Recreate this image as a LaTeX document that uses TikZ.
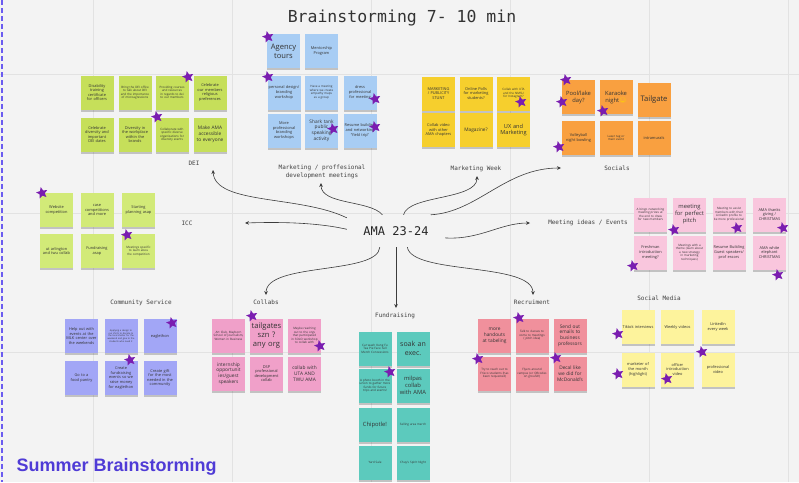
\documentclass[tikz,border=0pt]{standalone}
\usepackage{fontspec}
\setmainfont{Open Sans}
\newfontfamily\monofont{DejaVu Sans Mono}
\newfontfamily\headfont{Liberation Sans}
\newfontfamily\emojifont{Noto Emoji}
\usetikzlibrary{arrows.meta,positioning,calc,shapes.geometric,shadows}

\definecolor{boardbg}{HTML}{F3F3F3}
\definecolor{gridgray}{HTML}{E2E2E2}
\definecolor{edgeblue}{HTML}{6B5CF0}
\definecolor{deigreen}{HTML}{C6DF5A}
\definecolor{iccgreen}{HTML}{D2EA78}
\definecolor{mktblue}{HTML}{A8CDF4}
\definecolor{mktgold}{HTML}{F6CF2D}
\definecolor{socorange}{HTML}{F9A040}
\definecolor{meetpink}{HTML}{F9C6DD}
\definecolor{commblue}{HTML}{A2A6F6}
\definecolor{collpink}{HTML}{F0A0C9}
\definecolor{fundteal}{HTML}{5CCABD}
\definecolor{recsalmon}{HTML}{F0909C}
\definecolor{smyellow}{HTML}{FDF39C}
\definecolor{starpurple}{HTML}{7A1DB0}
\definecolor{headpurple}{HTML}{4F3BD6}
\definecolor{arrowgray}{HTML}{3C3C3C}

\begin{document}
\begin{tikzpicture}[x=1pt,y=-1pt,
  note/.style={rectangle,minimum width=33pt,minimum height=34pt,text width=31pt,
    align=center,inner sep=0.5pt,text=black!80,
    execute at begin node={\hyphenpenalty=10000\exhyphenpenalty=10000},
    drop shadow={shadow xshift=0pt,shadow yshift=-2pt,fill=black,opacity=0.2}},
  f3/.style={font=\fontsize{3}{3.5}\selectfont},
  f4/.style={font=\fontsize{3.9}{4.6}\selectfont},
  f5/.style={font=\fontsize{4.8}{5.8}\selectfont},
  f6/.style={font=\fontsize{5.8}{7}\selectfont},
  f8/.style={font=\fontsize{7.6}{9}\selectfont},
  lbl/.style={font=\monofont\fontsize{6}{7.4}\selectfont,text=black!75,align=center},
  pstar/.style={star,star points=5,star point ratio=2.2,fill=starpurple,
    minimum size=12pt,inner sep=0pt,rotate=12},
  link/.style={draw=arrowgray,line width=0.6pt,-{Stealth[length=4pt,width=3.6pt]}}]

  % ---- 背景（ボード・グリッド・左端の点線） ----
  \useasboundingbox (0,0) rectangle (799,482);
  \fill[boardbg] (0,0) rectangle (799,482);
  \foreach \gx in {93,232,371,510,649,788} {
    \draw[gridgray,line width=0.6pt] (\gx,0) -- (\gx,482);
  }
  \foreach \gy in {74,213,352} {
    \draw[gridgray,line width=0.6pt] (0,\gy) -- (799,\gy);
  }
  \draw[edgeblue,line width=2.5pt,dash pattern=on 5pt off 3pt] (2,0) -- (2,482);

  % ---- タイトルと中心 ----
  \node[font=\monofont\fontsize{16.5}{19}\selectfont,text=black!80] (title) at (402,18) {Brainstorming 7- 10 min};
  \node[font=\monofont\fontsize{12}{14}\selectfont,text=black!85,minimum width=98pt,minimum height=32pt] (ama) at (396,231) {AMA 23-24};
  \node[anchor=west,font=\headfont\bfseries\fontsize{18}{20}\selectfont,text=headpurple] (summer) at (13,467) {Summer Brainstorming};

  % ---- DEI ----
  \begin{scope}
    \node[note,fill=deigreen,f4] (dei1) at (97,92.5) {Disability training certificate for officers};
    \node[note,fill=deigreen,f3] (dei2) at (135,92.5) {Bring the DEI office to talk about DEI and the importance of microagressions};
    \node[note,fill=deigreen,f3] (dei3) at (172,92.5) {Providing courses and resources in regards to dei to our members};
    \node[note,fill=deigreen,f4] (dei4) at (210,92.5) {Celebrate our members religious preferences};
    \node[note,fill=deigreen,f4] (dei5) at (97,134.5) {Celebrate diversity and important DEI dates};
    \node[note,fill=deigreen,f4] (dei6) at (135,134.5) {Diversity in the workplace within the brands};
    \node[note,fill=deigreen,f3] (dei7) at (172,134.5) {Collaborate with specific diverse organizations for diversity events};
    \node[note,fill=deigreen,f5] (dei8) at (210,134.5) {Make AMA accessible to everyone};
    \node[lbl] (deiLbl) at (194,163) {DEI};
  \end{scope}

  % ---- Marketing / professional development ----
  \begin{scope}
    \node[note,fill=mktblue,f8] (prof1) at (283.5,51) {Agency tours};
    \node[note,fill=mktblue,f4] (prof2) at (321.5,51) {Mentorship Program};
    \node[note,fill=mktblue,f4] (prof3) at (284,92.5) {personal design/ branding workshop};
    \node[note,fill=mktblue,f3] (prof4) at (321.5,92.5) {Have a meeting where we create empathy maps as a group};
    \node[note,fill=mktblue,f4] (prof5) at (360,92.5) {dress professional for meeting};
    \node[note,fill=mktblue,f4] (prof6) at (284,130.5) {More professional branding workshops};
    \node[note,fill=mktblue,f5] (prof7) at (321.5,130.5) {Shark tank public speaking activity};
    \node[note,fill=mktblue,f4] (prof8) at (360,130.5) {Resume building and networking ``field trip''};
    \node[lbl] (profLbl) at (322,172) {Marketing / proffesional\\development meetings};
  \end{scope}

  % ---- Marketing Week ----
  \begin{scope}
    \node[note,fill=mktgold,f4] (mw1) at (438.5,93.5) {MARKETING / PUBLICITY STUNT};
    \node[note,fill=mktgold,f4] (mw2) at (476,93.5) {Online Polls for marketing students?};
    \node[note,fill=mktgold,f3] (mw3) at (513.5,93.5) {Collab with UTA and the NMSU for Instagram?};
    \node[note,fill=mktgold,f4] (mw4) at (438.5,130) {Collab video with other AMA chapters};
    \node[note,fill=mktgold,f5] (mw5) at (476,130) {Magazine?};
    \node[note,fill=mktgold,font=\fontsize{5.6}{6.8}\selectfont] (mw6) at (513.5,130) {UX and Marketing};
    \node[lbl] (mwLbl) at (476,169) {Marketing Week};
  \end{scope}

  % ---- Socials ----
  \begin{scope}
    \node[note,fill=socorange,f6] (soc1) at (578.5,97) {Pool/lake day?};
    \node[note,fill=socorange,f6] (soc2) at (616,97) {Karaoke night{\emojifont\color{yellow!70!orange}😂}};
    \node[note,fill=socorange,f8] (soc3) at (654,99.5) {Tailgate};
    \node[note,fill=socorange,f4] (soc4) at (578.5,138) {Volleyball night bowling};
    \node[note,fill=socorange,f3] (soc5) at (616,138) {Laser tag or main event};
    \node[note,fill=socorange,f4] (soc6) at (654,138) {intramurals};
    \node[lbl] (socLbl) at (617,168) {Socials};
  \end{scope}

  % ---- ICC ----
  \begin{scope}
    \node[note,fill=iccgreen,f4] (icc1) at (56.5,210) {Website competition};
    \node[note,fill=iccgreen,f4] (icc2) at (97,210) {case competitions and more};
    \node[note,fill=iccgreen,f4] (icc3) at (138.5,210) {Starting planning asap};
    \node[note,fill=iccgreen,f4] (icc4) at (56.5,251) {ut arlington and twu collab};
    \node[note,fill=iccgreen,f4] (icc5) at (97,251) {Fundraising asap};
    \node[note,fill=iccgreen,f3] (icc6) at (138.5,251) {Meetings specific to learn abou the competition};
    \node[lbl] (iccLbl) at (187,223) {ICC};
  \end{scope}

  % ---- Meeting ideas / Events ----
  \begin{scope}
    \node[note,fill=meetpink,f3] (meet1) at (650.5,214.5) {A bingo networking meeting prizes at the end to draw for new members};
    \node[note,fill=meetpink,f6] (meet2) at (689.5,214.5) {meeting for perfect pitch};
    \node[note,fill=meetpink,f3] (meet3) at (729,214.5) {Meeting to assist members with their LinkedIn profile to be more professional};
    \node[note,fill=meetpink,f4] (meet4) at (769.5,214.5) {AMA thanks giving / CHRISTMAS};
    \node[note,fill=meetpink,f4] (meet5) at (650.5,252.5) {Freshman introduction meeting?};
    \node[note,fill=meetpink,f3] (meet6) at (689.5,252.5) {Meetings with a theme (learn about a new strategy in marketing techniques)};
    \node[note,fill=meetpink,f4] (meet7) at (729,252.5) {Resume Building Guest speakers/\allowbreak prof essors};
    \node[note,fill=meetpink,f4] (meet8) at (769.5,252.5) {AMA white elephant CHRISTMAS};
    \node[lbl] (meetLbl) at (588,223) {Meeting ideas / Events};
  \end{scope}

  % ---- Community Service ----
  \begin{scope}
    \node[note,fill=commblue,f4] (comm1) at (81.5,336) {Help out with events at the MLK center over the weekends};
    \node[note,fill=commblue,font=\fontsize{2.3}{2.8}\selectfont] (comm2) at (121,336) {Applying a design to our shirts to donate to the local shelter for the weekend and give to the students who need it};
    \node[note,fill=commblue,f4] (comm3) at (160,336) {eaglethon};
    \node[note,fill=commblue,f4] (comm4) at (81.5,378) {Go to a food pantry};
    \node[note,fill=commblue,f4] (comm5) at (121,378) {Create fundraising events so we raise money for eaglethon};
    \node[note,fill=commblue,f4] (comm6) at (160,378) {Create gift for the most needed in the community};
    \node[lbl] (commLbl) at (141,303) {Community Service};
  \end{scope}

  % ---- Collabs ----
  \begin{scope}
    \node[note,fill=collpink,f3] (coll1) at (228.5,335.5) {Art Club, Mayborn School of Journalism, Women in Business};
    \node[note,fill=collpink,f8] (coll2) at (266.5,335.5) {tailgates szn ? any org};
    \node[note,fill=collpink,f3] (coll3) at (304.5,335.5) {Maybe reaching out to the orgs that participated in SOLO workshop to collab with};
    \node[note,fill=collpink,f5] (coll4) at (228.5,373.5) {internship opportunit\allowbreak ies/\allowbreak guest speakers};
    \node[note,fill=collpink,f4] (coll5) at (266.5,373.5) {DSP professional development collab};
    \node[note,fill=collpink,f5] (coll6) at (304.5,373.5) {collab with UTA AND TWU AMA};
    \node[lbl] (collLbl) at (266,302) {Collabs};
  \end{scope}

  % ---- Fundraising ----
  \begin{scope}
    \node[note,fill=fundteal,f3] (fund1) at (375,348.5) {Car wash Kung Fu Tea Pie Face Sell Merch Concessions};
    \node[note,fill=fundteal,font=\fontsize{7}{8.4}\selectfont] (fund2) at (413,348.5) {soak an exec.};
    \node[note,fill=fundteal,f3] (fund3) at (375,385.5) {A photo booth in the union to gather more funds for future trips and events!};
    \node[note,fill=fundteal,f6] (fund4) at (413,385.5) {milpas collab with AMA};
    \node[note,fill=fundteal,f6] (fund5) at (375,424.5) {Chipotle!};
    \node[note,fill=fundteal,f3] (fund6) at (413,424.5) {Selling area merch};
    \node[note,fill=fundteal,f3] (fund7) at (375,462.5) {Yard Sale};
    \node[note,fill=fundteal,f3] (fund8) at (413,462.5) {Chuy's Spirit Night};
    \node[lbl] (fundLbl) at (395,316) {Fundraising};
  \end{scope}

  % ---- Recruiment ----
  \begin{scope}
    \node[note,fill=recsalmon,f5] (rec1) at (494.5,335.5) {more handouts at tabeling};
    \node[note,fill=recsalmon,f3] (rec2) at (532,335.5) {Talk to classes to come to meetings ( pitch idea)};
    \node[note,fill=recsalmon,f5] (rec3) at (570,335.5) {Send out emails to business professors};
    \node[note,fill=recsalmon,f3] (rec4) at (494.5,373.5) {Try to reach out to Frisco students (has been requested)};
    \node[note,fill=recsalmon,f3] (rec5) at (532,373.5) {Flyers around campus (or QRcodes on ground!)};
    \node[note,fill=recsalmon,f5] (rec6) at (570,373.5) {Decal like we did for McDonald's};
    \node[lbl] (recLbl) at (532,302) {Recruiment};
  \end{scope}

  % ---- Social Media ----
  \begin{scope}
    \node[note,fill=smyellow,f4] (sm1) at (638,327) {Tiktok interviews};
    \node[note,fill=smyellow,f4] (sm2) at (677.5,327) {Weekly videos};
    \node[note,fill=smyellow,f4] (sm3) at (718,327) {LinkedIn every week};
    \node[note,fill=smyellow,f4] (sm4) at (638,369.5) {marketer of the month (highlight)};
    \node[note,fill=smyellow,f4] (sm5) at (677.5,369.5) {officer introduction video};
    \node[note,fill=smyellow,f4] (sm6) at (718,369.5) {professional video};
    \node[lbl] (smLbl) at (659,298) {Social Media};
  \end{scope}

  % ---- 投票の星 ----
  \foreach \sx/\sy [count=\i] in {188/77,157/117,268/37,268/77,375/99,333/129,375/127,
      521/102,566/80,562/102,603/111,559/147,42/193,127/235,674/230,737/228,783/228,
      633/266,778/275,172/323,130/360,252/316,320/346,390/372,519/318,478/359,556/358,
      618/334,702/352,618/374,667/379} {
    \node[pstar] (vote\i) at (\sx,\sy) {};
  }

  % ---- 中心から各グループへの矢印 ----
  \coordinate (tipDEI) at (213,170);
  \coordinate (tipProf) at (321,183);
  \coordinate (tipMW) at (477,176);
  \coordinate (tipSoc) at (561,168);
  \coordinate (tipMeet) at (530,223);
  \coordinate (tipICC) at (245,223);
  \coordinate (tipColl) at (266,295);
  \coordinate (tipFund) at (396,308);
  \coordinate (tipRec) at (533,295);
  \draw[link] (ama.165) .. controls (300,195) and (215,205) .. (tipDEI);
  \draw[link] (ama.130) .. controls (370,200) and (321,205) .. (tipProf);
  \draw[link] (ama.65) .. controls (408,195) and (477,200) .. (tipMW);
  \draw[link] (ama.25) .. controls (478,212) and (505,168) .. (tipSoc);
  \draw[link] (ama.-8) .. controls (480,240) and (500,223) .. (tipMeet);
  \draw[link] (ama.178) .. controls (315,222) and (275,222) .. (tipICC);
  \draw[link] (ama.-135) .. controls (378,275) and (266,262) .. (tipColl);
  \draw[link] (ama.south) -- (tipFund);
  \draw[link] (ama.-55) .. controls (412,275) and (533,262) .. (tipRec);
\end{tikzpicture}
\end{document}
